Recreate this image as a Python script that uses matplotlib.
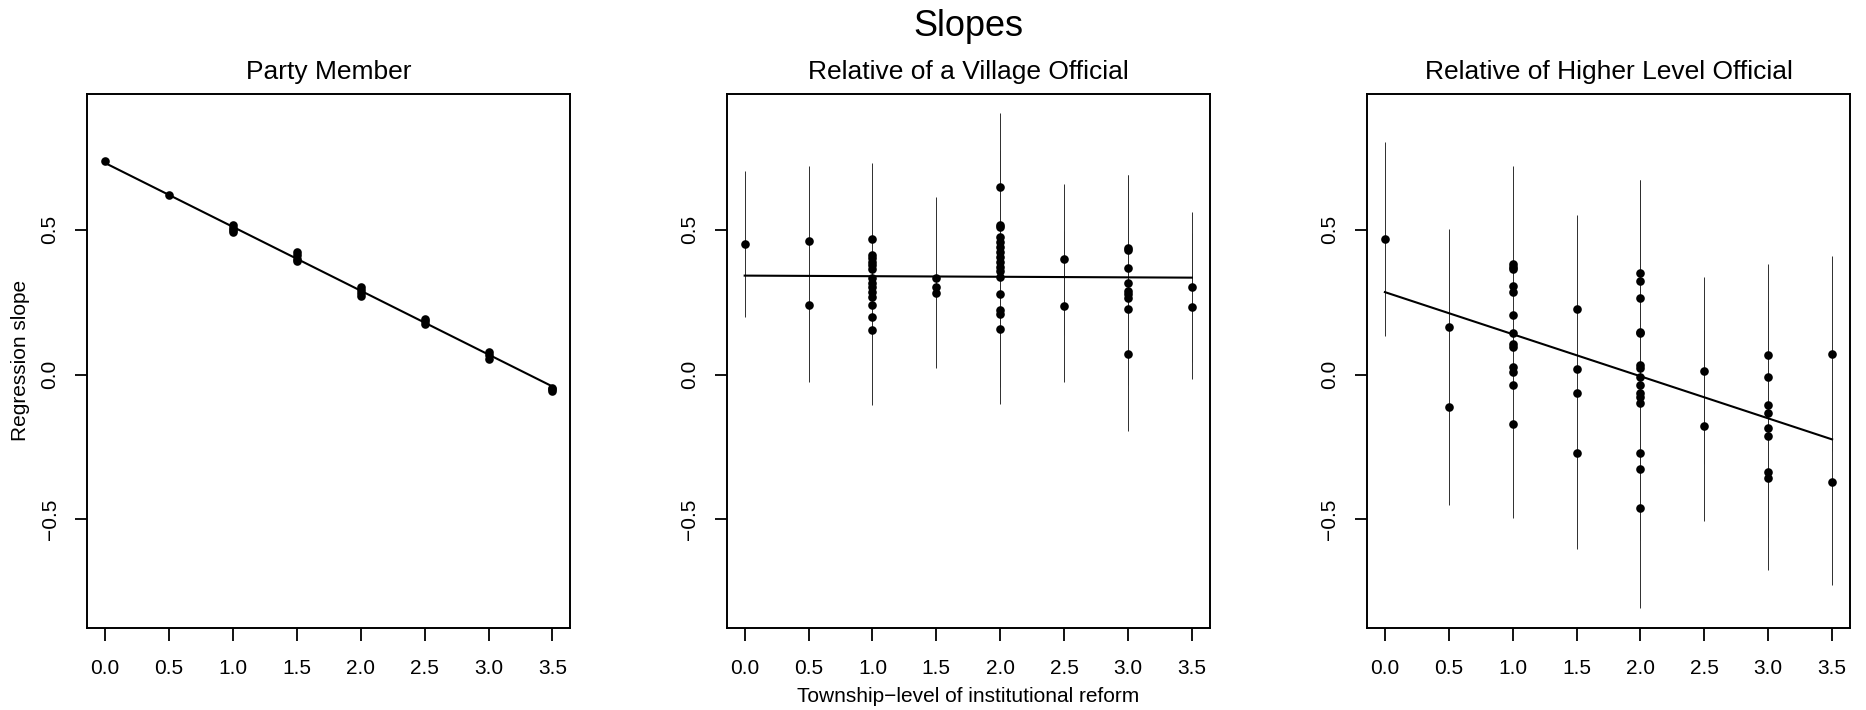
import matplotlib
matplotlib.use("Agg")
import matplotlib.pyplot as plt
import numpy as np

plt.rcParams['font.family'] = ['Liberation Sans', 'DejaVu Sans']

# ---------------- data ----------------
main_title = "Slopes"
panel_titles = ["Party Member", "Relative of a Village Official",
                "Relative of Higher Level Official"]
x_label = "Township\u2212level of institutional reform"
y_label = "Regression slope"
x_levels = [0.0, 0.5, 1.0, 1.5, 2.0, 2.5, 3.0, 3.5]
x_tick_labels = ["0.0", "0.5", "1.0", "1.5", "2.0", "2.5", "3.0", "3.5"]
y_ticks = [-0.5, 0.0, 0.5]
y_tick_labels = ["\u22120.5", "0.0", "0.5"]

# Panel 1: Party Member (slopes grouped by reform level)
party_groups = [
    [0.737],
    [0.622],
    [0.517, 0.508, 0.500, 0.494],
    [0.424, 0.412, 0.401, 0.393],
    [0.303, 0.293, 0.283, 0.273],
    [0.193, 0.184, 0.176],
    [0.078, 0.068, 0.055],
    [-0.045, -0.051, -0.057],
]
party_fit_x = [0.0, 3.5]
party_fit_y = [0.731, -0.041]
party_ci_x = []
party_ci_lo = []
party_ci_hi = []

# Panel 2: Relative of a Village Official
village_groups = [
    [0.452],
    [0.463, 0.241],
    [0.469, 0.413, 0.402, 0.388, 0.377, 0.364, 0.333, 0.318, 0.304, 0.287,
     0.269, 0.242, 0.199, 0.153],
    [0.333, 0.304, 0.281],
    [0.647, 0.517, 0.511, 0.477, 0.459, 0.442, 0.425, 0.408, 0.390, 0.373,
     0.359, 0.338, 0.280, 0.223, 0.209, 0.157],
    [0.398, 0.237],
    [0.436, 0.430, 0.369, 0.315, 0.288, 0.280, 0.263, 0.228, 0.070],
    [0.302, 0.235],
]
village_fit_x = [0.0, 3.5]
village_fit_y = [0.342, 0.335]
village_ci_x = [0.0, 0.5, 1.0, 1.5, 2.0, 2.0, 2.5, 2.5, 3.0, 3.0, 3.5, 3.5]
village_ci_lo = [0.198, -0.025, -0.105, 0.024, -0.102, -0.042, -0.025, 0.136,
                 -0.194, -0.037, -0.016, 0.043]
village_ci_hi = [0.704, 0.721, 0.730, 0.612, 0.905, 0.776, 0.657, 0.496,
                 0.691, 0.691, 0.562, 0.488]

# Panel 3: Relative of Higher Level Official
higher_groups = [
    [0.468],
    [0.164, -0.112],
    [0.382, 0.373, 0.365, 0.306, 0.287, 0.205, 0.143, 0.105, 0.096, 0.027,
     0.008, -0.035, -0.170],
    [0.228, 0.018, -0.063, -0.270],
    [0.350, 0.322, 0.265, 0.148, 0.143, 0.033, 0.022, -0.009, -0.036, -0.065,
     -0.076, -0.099, -0.272, -0.327, -0.460],
    [0.014, -0.177],
    [0.067, -0.007, -0.106, -0.133, -0.185, -0.212, -0.336, -0.359],
    [0.072, -0.372],
]
higher_fit_x = [0.0, 3.5]
higher_fit_y = [0.285, -0.224]
higher_ci_x = [0.0, 0.5, 1.0, 1.5, 2.0, 2.0, 2.5, 2.5, 3.0, 3.0, 3.5, 3.5]
higher_ci_lo = [0.132, -0.449, -0.495, -0.604, -0.805, -0.570, -0.507, -0.309,
                -0.677, -0.562, -0.726, -0.265]
higher_ci_hi = [0.804, 0.502, 0.722, 0.551, 0.672, 0.672, 0.337, 0.154,
                0.383, 0.253, 0.409, -0.019]

# ---------------- figure ----------------
W, H = 1866, 710
fig = plt.figure(figsize=(W / 100, H / 100), dpi=100)

ax_lefts = [87.3, 726.8, 1367.0]
ax_w = 483.0
ax_top, ax_bot = 93.6, 627.5

panels = [
    (panel_titles[0], party_groups, party_fit_x, party_fit_y,
     party_ci_x, party_ci_lo, party_ci_hi),
    (panel_titles[1], village_groups, village_fit_x, village_fit_y,
     village_ci_x, village_ci_lo, village_ci_hi),
    (panel_titles[2], higher_groups, higher_fit_x, higher_fit_y,
     higher_ci_x, higher_ci_lo, higher_ci_hi),
]

for left, (title, groups, fx, fy, cx, clo, chi) in zip(ax_lefts, panels):
    ax = fig.add_axes([left / W, (H - ax_bot) / H, ax_w / W, (ax_bot - ax_top) / H])
    xs = np.concatenate([[xv] * len(g) for xv, g in zip(x_levels, groups)])
    ys = np.concatenate(groups)
    if len(cx):
        ax.vlines(cx, clo, chi, colors='#2e2e2e', linewidth=0.7, zorder=1)
    ax.plot(fx, fy, color='black', linewidth=1.5, zorder=2)
    ax.plot(xs, ys, linestyle='none', marker='o', markersize=6.2,
            markeredgewidth=0, color='black', zorder=3)
    ax.set_xlim(-0.14, 3.64)
    ax.set_ylim(-0.874, 0.971)
    ax.set_xticks(x_levels)
    ax.set_xticklabels(x_tick_labels)
    ax.set_yticks(y_ticks)
    ax.set_yticklabels(y_tick_labels, rotation=90, va='center', ha='right')
    ax.tick_params(axis='both', direction='out', length=9, width=1.3,
                   labelsize=15, colors='black')
    ax.tick_params(axis='x', pad=13.5)
    ax.tick_params(axis='y', pad=11)
    for sp in ax.spines.values():
        sp.set_linewidth(1.4)
    ax.set_title(title, fontsize=19, pad=10.8)

fig.text(968.4 / W, 1 - 36.0 / H, main_title, ha='center', va='baseline',
         fontsize=26)
fig.text(968.4 / W, 1 - 701.7 / H, x_label, ha='center', va='baseline',
         fontsize=15)
fig.text(20.5 / W, 1 - 360.5 / H, y_label, rotation=90, ha='center',
         va='center', fontsize=15)

fig.savefig("out.png", dpi=100)
